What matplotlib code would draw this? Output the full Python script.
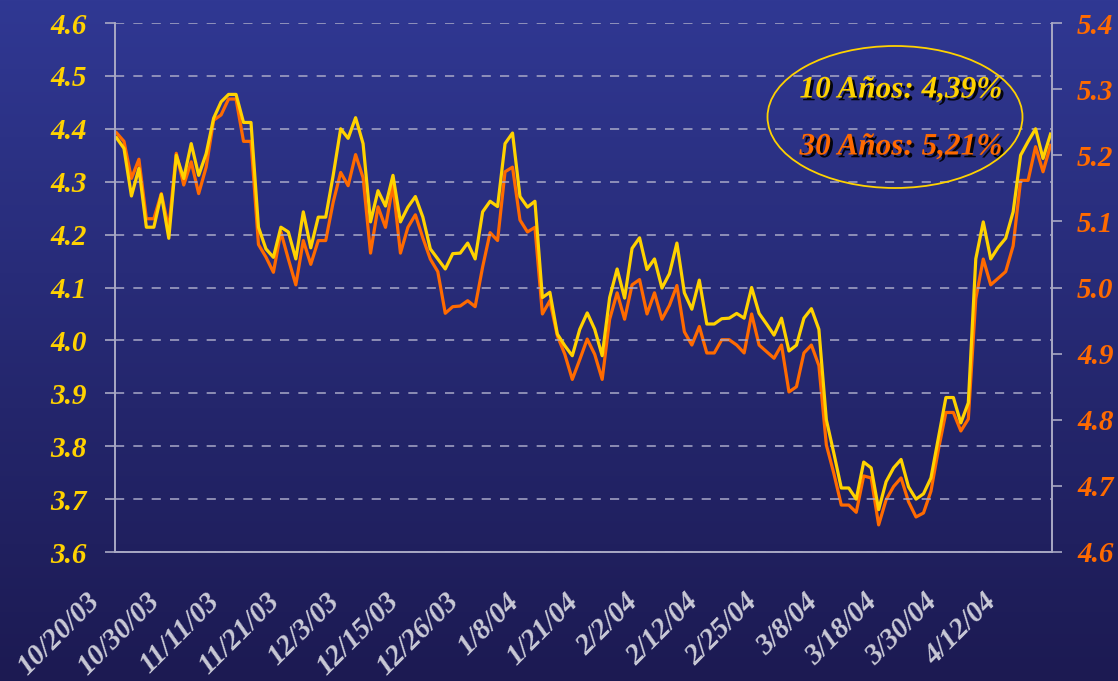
import numpy as np
import matplotlib
matplotlib.use("Agg")
from matplotlib import pyplot as plt
from matplotlib.patches import Ellipse
from matplotlib.transforms import ScaledTranslation
import matplotlib.patheffects as pe

# daily yields, 10 year (left axis) and 30 year (right axis)
ten_year = [4.383, 4.363, 4.273, 4.325, 4.214, 4.214, 4.276, 4.193, 4.350, 4.306,
            4.372, 4.312, 4.353, 4.420, 4.451, 4.465, 4.465, 4.412, 4.412, 4.214,
            4.173, 4.157, 4.214, 4.205, 4.154, 4.243, 4.175, 4.233, 4.233, 4.312,
            4.400, 4.382, 4.421, 4.372, 4.224, 4.283, 4.254, 4.312, 4.224, 4.252,
            4.272, 4.233, 4.173, 4.154, 4.135, 4.164, 4.165, 4.184, 4.154, 4.243,
            4.263, 4.253, 4.372, 4.392, 4.272, 4.252, 4.263, 4.081, 4.091, 4.012,
            3.990, 3.971, 4.021, 4.052, 4.021, 3.971, 4.081, 4.135, 4.080, 4.174,
            4.194, 4.134, 4.154, 4.099, 4.126, 4.184, 4.090, 4.059, 4.114, 4.031,
            4.031, 4.041, 4.042, 4.051, 4.042, 4.100, 4.051, 4.031, 4.010, 4.042,
            3.980, 3.991, 4.042, 4.060, 4.021, 3.850, 3.787, 3.721, 3.721, 3.700,
            3.770, 3.759, 3.680, 3.733, 3.759, 3.775, 3.723, 3.700, 3.710, 3.740,
            3.816, 3.892, 3.892, 3.844, 3.882, 4.154, 4.224, 4.154, 4.176, 4.193,
            4.243, 4.350, 4.376, 4.400, 4.344, 4.390]

thirty_year = [5.234, 5.221, 5.165, 5.194, 5.104, 5.104, 5.142, 5.089, 5.203, 5.155,
               5.190, 5.142, 5.182, 5.253, 5.261, 5.285, 5.285, 5.221, 5.221, 5.065,
               5.046, 5.023, 5.084, 5.043, 5.004, 5.071, 5.035, 5.071, 5.071, 5.129,
               5.174, 5.154, 5.201, 5.166, 5.052, 5.122, 5.091, 5.155, 5.052, 5.091,
               5.110, 5.075, 5.043, 5.024, 4.961, 4.971, 4.972, 4.980, 4.971, 5.031,
               5.083, 5.071, 5.175, 5.182, 5.102, 5.084, 5.091, 4.960, 4.980, 4.927,
               4.899, 4.861, 4.891, 4.922, 4.899, 4.861, 4.952, 4.992, 4.952, 5.004,
               5.012, 4.960, 4.992, 4.952, 4.973, 5.003, 4.933, 4.913, 4.941, 4.901,
               4.901, 4.921, 4.921, 4.913, 4.901, 4.960, 4.913, 4.903, 4.893, 4.913,
               4.842, 4.850, 4.901, 4.913, 4.882, 4.762, 4.719, 4.671, 4.671, 4.660,
               4.715, 4.712, 4.641, 4.679, 4.699, 4.712, 4.676, 4.653, 4.659, 4.692,
               4.755, 4.811, 4.811, 4.783, 4.801, 4.983, 5.043, 5.004, 5.014, 5.024,
               5.063, 5.162, 5.162, 5.213, 5.175, 5.215]

date_labels = ["10/20/03", "10/30/03", "11/11/03", "11/21/03", "12/3/03", "12/15/03",
               "12/26/03", "1/8/04", "1/21/04", "2/2/04", "2/12/04", "2/25/04",
               "3/8/04", "3/18/04", "3/30/04", "4/12/04"]
label_step = 8

left_ticks = [3.6, 3.7, 3.8, 3.9, 4.0, 4.1, 4.2, 4.3, 4.4, 4.5, 4.6]
right_ticks = [4.6, 4.7, 4.8, 4.9, 5.0, 5.1, 5.2, 5.3, 5.4]

box_lines = ["10 Años: 4,39%", "30 Años: 5,21%"]

YELLOW = "#ffd200"
ORANGE = "#ff6a00"
LABEL_GREY = "#c9c9d6"
serif = ["Liberation Serif", "DejaVu Serif"]

fig = plt.figure(figsize=(11.18, 6.81), dpi=100)

# background gradient
bg = fig.add_axes([0, 0, 1, 1])
top = np.array([0x30, 0x38, 0x93]) / 255
bottom = np.array([0x1c, 0x1a, 0x52]) / 255
t = np.linspace(0, 1, 256)[:, None]
grad = (top[None, :] * (1 - t) + bottom[None, :] * t)[:, None, :]
bg.imshow(grad, aspect="auto", extent=[0, 1, 0, 1])
bg.axis("off")

ax = fig.add_axes([115 / 1118, 1 - 552 / 681, (1052 - 115) / 1118, 529 / 681])
ax.patch.set_visible(False)
ax2 = ax.twinx()

x = np.arange(len(ten_year))
ax2.plot(x, thirty_year, color=ORANGE, lw=2.3)
ax.plot(x, ten_year, color=YELLOW, lw=2.3)
# yellow line over orange
ax.set_zorder(ax2.get_zorder() + 1)

ax.set_xlim(-0.2, len(ten_year) - 0.8)
ax.set_ylim(3.6, 4.6)
ax2.set_ylim(4.6, 5.4)

ax.set_yticks(left_ticks)
ax.set_yticklabels([f"{v:.1f}" for v in left_ticks])
ax2.set_yticks(right_ticks)
ax2.set_yticklabels([f"{v:.1f}" for v in right_ticks])

ax.set_xticks(np.arange(len(date_labels)) * label_step)
ax.set_xticklabels(date_labels, rotation=45, ha="right", va="top", rotation_mode="anchor")

for a in (ax, ax2):
    for s in a.spines.values():
        s.set_color("#a9a9c4")
        s.set_linewidth(1.2)
    a.spines["top"].set_visible(False)

ax.grid(axis="y", color="#a9a9c8", ls=(0, (6, 6)), lw=1.1)
ax.set_axisbelow(True)

ax.tick_params(axis="y", colors="#a9a9c4", length=7, width=1.2, pad=13)
ax2.tick_params(axis="y", colors="#a9a9c4", length=7, width=1.2, pad=11)
ax.tick_params(axis="x", length=0, pad=26)

for lab in ax.get_yticklabels() + ax2.get_yticklabels():
    lab.set_fontfamily(serif)
    lab.set_fontweight("bold")
    lab.set_fontstyle("italic")
    lab.set_fontsize(21)
for lab in ax.get_yticklabels():
    lab.set_color(YELLOW)
for lab in ax2.get_yticklabels():
    lab.set_color(ORANGE)

shift = ScaledTranslation(-0.30, 0, fig.dpi_scale_trans)
for lab in ax.get_xticklabels():
    lab.set_color(LABEL_GREY)
    lab.set_fontfamily(serif)
    lab.set_fontweight("bold")
    lab.set_fontstyle("italic")
    lab.set_fontsize(21)
    lab.set_transform(lab.get_transform() + shift)

# annotation ellipse with the latest yields
ell = Ellipse((895 / 1118, 1 - 117 / 681), 255 / 1118, 142 / 681,
              transform=fig.transFigure, fill=False, edgecolor=YELLOW, lw=1.3, zorder=10)
fig.add_artist(ell)
for txt, col, yy in zip(box_lines, (YELLOW, ORANGE), (90, 147)):
    t_ = fig.text(901 / 1118, 1 - yy / 681, txt, color=col, fontsize=22.5,
                  family=serif, weight="bold", style="italic", ha="center", va="center")
    t_.set_path_effects([pe.SimplePatchShadow(offset=(2, -2), shadow_rgbFace="black", alpha=0.9),
                         pe.Normal()])

fig.savefig("out.png", dpi=100)
